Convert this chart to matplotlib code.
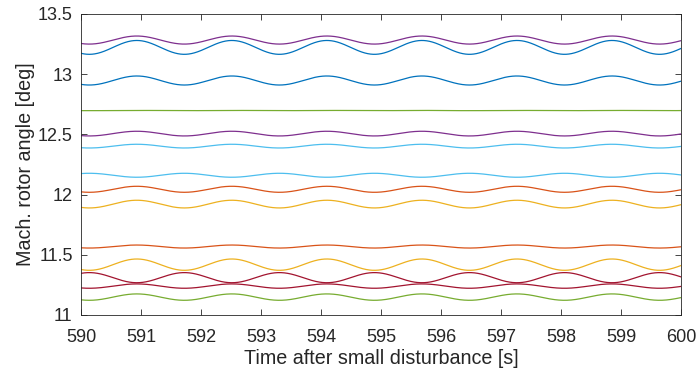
import numpy as np
import matplotlib.pyplot as plt

plt.rcParams['font.family'] = ['Liberation Sans', 'DejaVu Sans']

# rotor angles: value of each machine at the common
# oscillation crest (t ~ 590.93 s) and half a period later
at_crest = [13.317, 13.280, 12.985, 12.699, 12.526, 12.418, 12.144,
            12.069, 11.953, 11.581, 11.465, 11.268, 11.258, 11.175]
at_trough = [13.250, 13.165, 12.910, 12.697, 12.487, 12.387, 12.177,
             12.019, 11.889, 11.556, 11.371, 11.352, 11.222, 11.122]
colors = ['#7E2F8E', '#0072BD', '#0072BD', '#77AC30', '#7E2F8E', '#4DBEEE',
          '#4DBEEE', '#D95319', '#EDB120', '#D95319', '#EDB120', '#A2142F',
          '#A2142F', '#77AC30']

# oscillation mode seen in the traces
period = 1.584
t_crest = 590.93

t = np.linspace(590, 600, 2001)

fig = plt.figure(figsize=(6.99, 3.77), dpi=100)
ax = fig.add_axes([0.1159, 0.1645, 0.8584, 0.7984])

for hi, lo, c in zip(at_crest, at_trough, colors):
    mid = (hi + lo) / 2
    half = (hi - lo) / 2
    ax.plot(t, mid + half * np.cos(2 * np.pi * (t - t_crest) / period),
            color=c, lw=0.9)

ax.set_xlim(590, 600)
ax.set_ylim(11, 13.5)
ax.set_xticks(np.arange(590, 601, 1))
ax.set_yticks([11, 11.5, 12, 12.5, 13, 13.5])
ax.set_yticklabels(['11', '11.5', '12', '12.5', '13', '13.5'])

ax.tick_params(direction='in', top=True, right=True, length=4,
               width=0.6, colors='#262626', labelsize=13)
ax.tick_params(axis='x', pad=10)
ax.tick_params(axis='y', pad=6)
for s in ax.spines.values():
    s.set_color('#262626')
    s.set_linewidth(0.6)

ax.set_xlabel('Time after small disturbance [s]', fontsize=14.2,
              color='#262626', labelpad=2)
ax.set_ylabel('Mach. rotor angle [deg]', fontsize=14.2,
              color='#262626', labelpad=2)

fig.savefig('out.png', dpi=100)
